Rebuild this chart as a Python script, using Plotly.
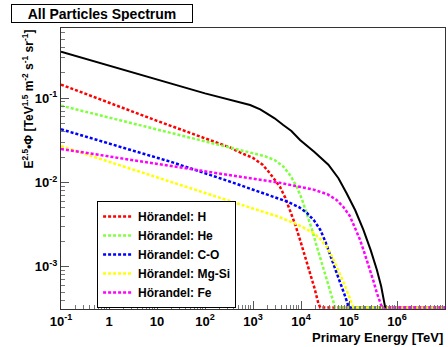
import plotly.graph_objects as go

# ---- data (energy in TeV, E^2.5*flux) ----
FLOOR = 3.3e-4  # curves run along the bottom frame once they fall below the axis minimum

tot_E = [0.1, 10, 100, 871, 1413, 1928, 2818, 4266, 6310, 9550, 19050, 37150, 60260, 89130,
         134900, 199500, 281800, 380200, 467700, 562300, 602600]
tot_F = [0.3532, 0.1652, 0.1135, 0.0826, 0.07328, 0.06592, 0.05754, 0.04786, 0.04074, 0.03184,
         0.02291, 0.01622, 0.01122, 0.007447, 0.004677, 0.002742, 0.001585, 0.0009226, 0.0005888,
         0.0003388, FLOOR]

h_E = [0.1, 10, 331, 562, 1000, 1585, 2239, 2818, 3631, 4677, 5888, 7586, 9550, 12300, 15490,
       19050, 22910, 25120, 1e7]
h_F = [0.1445, 0.0537, 0.0260, 0.02239, 0.0195, 0.01622, 0.01288, 0.01096, 0.008913, 0.006607,
       0.004732, 0.003162, 0.002089, 0.001318, 0.0008511, 0.0005623, 0.0003715, FLOOR, FLOOR]

he_E = [0.1, 10, 331, 1000, 1778, 2818, 4266, 6026, 8128, 10470, 13180, 16980, 21380, 26920,
        33880, 39810, 46770, 51290, 1e7]
he_F = [0.08128, 0.04266, 0.02606, 0.02239, 0.02042, 0.01841, 0.01549, 0.01202, 0.008913, 0.00631,
        0.004365, 0.002754, 0.001738, 0.001122, 0.0007079, 0.0005129, 0.0003715, FLOOR, FLOOR]

co_E = [0.1, 20.42, 331, 1622, 5012, 8913, 13180, 18620, 25120, 31620, 39810, 54950, 67610,
        83180, 97720, 104700, 1e7]
co_F = [0.04266, 0.01738, 0.01023, 0.007499, 0.005957, 0.005129, 0.004365, 0.003548, 0.002754,
        0.002042, 0.001445, 0.0008511, 0.0006166, 0.0004467, 0.0003388, FLOOR, FLOOR]

mg_E = [0.1, 331, 1096, 3162, 8128, 12590, 18200, 25120, 33880, 43650, 54950, 67610, 83180,
        100000, 114800, 123000, 1e7]
mg_F = [0.02692, 0.005929, 0.004819, 0.003981, 0.003199, 0.002818, 0.002512, 0.002138, 0.001738,
        0.001349, 0.001023, 0.0007762, 0.0005888, 0.0004467, 0.0003548, FLOOR, FLOOR]

fe_E = [0.1, 331, 3631, 18200, 35480, 54950, 75860, 104700, 131800, 169800, 213800, 275400,
        323600, 380200, 478600, 512900, 1e7]
fe_F = [0.02489, 0.01227, 0.009886, 0.008222, 0.007244, 0.006209, 0.005129, 0.003981, 0.002951,
        0.002089, 0.001413, 0.0009226, 0.0006761, 0.0004898, 0.0003388, FLOOR, FLOOR]

x_tickvals = [0.1, 1, 10, 100, 1e3, 1e4, 1e5, 1e6, 1e7]
x_ticktext = ["10<sup>-1</sup>", "1", "10", "10<sup>2</sup>", "10<sup>3</sup>", "10<sup>4</sup>",
              "10<sup>5</sup>", "10<sup>6</sup>", "10<sup>7</sup>"]
y_tickvals = [1e-3, 1e-2, 1e-1]
y_ticktext = ["10<sup>-3</sup>", "10<sup>-2</sup>", "10<sup>-1</sup>"]

components = [
    ("Hörandel: H", h_E, h_F, "#ff0000"),
    ("Hörandel: He", he_E, he_F, "#80ff40"),
    ("Hörandel: C-O", co_E, co_F, "#0000ff"),
    ("Hörandel: Mg-Si", mg_E, mg_F, "#ffff00"),
    ("Hörandel: Fe", fe_E, fe_F, "#ff00ff"),
]

FONT = "Liberation Sans"
fig = go.Figure()
for name, ex, fy, col in components:
    fig.add_trace(go.Scatter(x=ex, y=fy, mode="lines", name=name,
                             line=dict(color=col, width=2.5, dash="3px,2px")))
fig.add_trace(go.Scatter(x=tot_E, y=tot_F, mode="lines", name="total", showlegend=False,
                         line=dict(color="black", width=2)))

axis_common = dict(type="log", showgrid=False, zeroline=False, showline=True, mirror=True,
                   linecolor="#333333", linewidth=1, ticks="inside", tickcolor="#555555",
                   ticklen=8, tickwidth=1,
                   tickfont=dict(family=FONT, size=13, color="black", weight="bold"),
                   minor=dict(ticks="inside", ticklen=4, tickcolor="#777777", dtick="D1", showgrid=False))
fig.update_xaxes(range=[-1, 7], tickmode="array", tickvals=x_tickvals, ticktext=x_ticktext,
                 ticklabelstandoff=0, **axis_common)
fig.update_yaxes(range=[-3.5, -0.17], tickmode="array", tickvals=y_tickvals, ticktext=y_ticktext, **axis_common)

fig.update_layout(
    width=448, height=347,
    margin=dict(l=61, r=3, t=28, b=38),
    paper_bgcolor="white", plot_bgcolor="white",
    legend=dict(x=0.094, y=0.384, xanchor="left", yanchor="top",
                bgcolor="white", bordercolor="black", borderwidth=1,
                font=dict(family=FONT, size=12, color="black", weight="bold"),
                itemwidth=30, tracegroupgap=0),
    annotations=[
        dict(text="All Particles Spectrum", xref="paper", yref="paper", x=0.107, y=1.053,
             xanchor="center", yanchor="middle", showarrow=False, width=178, height=15,
             bordercolor="black", borderwidth=1, borderpad=1, bgcolor="white",
             font=dict(family=FONT, size=14, color="black", weight="bold")),
        dict(text="Primary Energy [TeV]", xref="paper", yref="paper", x=1.0, y=-0.1,
             xanchor="right", yanchor="middle", showarrow=False,
             font=dict(family=FONT, size=13, color="black", weight="bold")),
        dict(text="E<sup>2.5</sup>•Φ [TeV<sup>1.5</sup> m<sup>-2</sup> s<sup>-1</sup> sr<sup>-1</sup>]",
             xref="paper", yref="paper", x=-0.0885, y=1.0, xanchor="center", yanchor="top",
             textangle=-90, showarrow=False,
             font=dict(family=FONT, size=12, color="black", weight="bold")),
    ],
)

fig.write_html("out.html")
